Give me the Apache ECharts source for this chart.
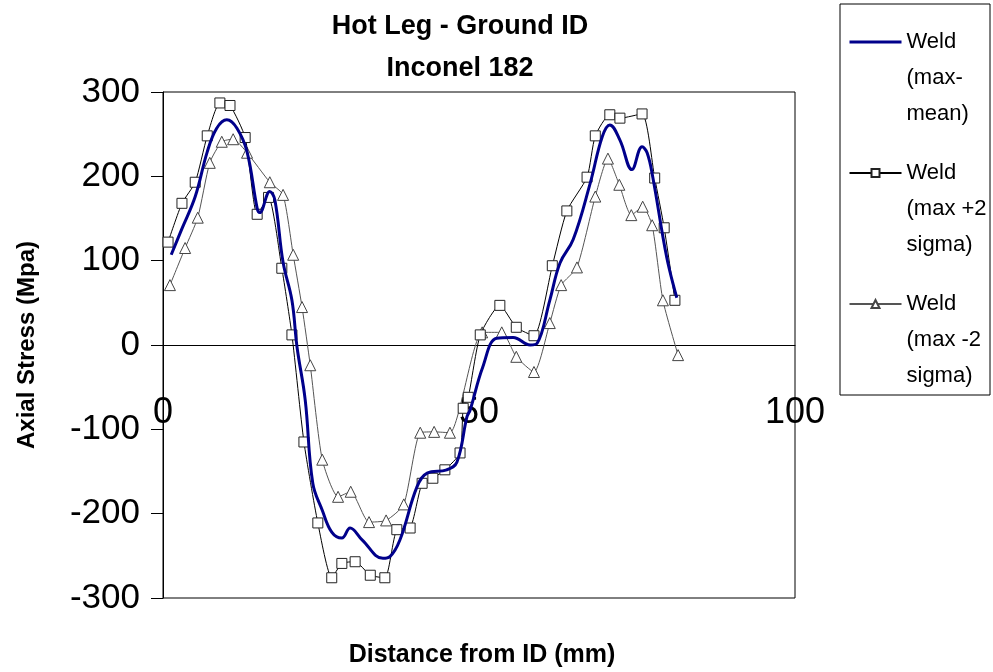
<!DOCTYPE html>
<html>
<head>
    <meta charset="utf-8">
    <title>Hot Leg - Ground ID</title>
    <script src="https://cdn.jsdelivr.net/npm/echarts@6/dist/echarts.min.js"></script>
    <style>
        html, body { margin: 0; padding: 0; background: #fff; }
    </style>
</head>
<body>

<div id="main" style="width: 993px;height:672px;"></div>

<script type="text/javascript">

    // Weld (max-mean)
    var xMean = [1.3, 3.0, 5.1, 7.0, 8.5, 10.1, 11.7, 13.3, 14.9, 15.3, 16.9, 17.7, 19.0, 20.4, 21.2, 22.5, 23.7,
        25.2, 26.7, 28.3, 29.6, 31.5, 34.8, 35.9, 37.5, 40.2, 41.8, 44.9, 46.5, 48.1, 48.6, 50.6, 52.8, 55.4,
        58.1, 59.2, 61.2, 62.8, 64.9, 67.6, 69.5, 70.7, 72.3, 74.2, 75.8, 76.6, 77.5, 79.7, 81.3];
    var yMean = [107, 138, 176, 229, 257, 267, 257, 229, 162, 157, 182, 172, 98, 53, -2, -65, -164,
        -196, -222, -229, -217, -231, -253, -251, -231, -168, -152, -148, -139, -85, -77, -26, 8, 9,
        0, 2, 53, 97, 125, 192, 247, 261, 243, 208, 235, 228, 199, 104, 56];

    // Weld (max +2 sigma)
    var xPlus = [0.8, 3.0, 5.1, 7.0, 9.0, 10.6, 13.0, 14.9, 16.7, 18.8, 20.4, 22.3, 24.5, 26.7, 28.3, 30.4,
        32.8, 35.1, 37.0, 39.1, 41.0, 42.7, 44.6, 47.0, 47.5, 48.3, 50.2, 53.3, 55.9, 58.7, 61.6, 63.9, 67.1,
        68.4, 70.7, 72.3, 75.8, 77.8, 79.3, 81.0];
    var yPlus = [122, 168, 193, 248, 287, 284, 246, 155, 175, 91, 12, -115, -211, -276, -259, -257,
        -273, -276, -219, -217, -164, -158, -148, -128, -75, -62, 12, 47, 21, 11, 94, 159, 199,
        248, 273, 269, 274, 198, 139, 53];

    // Weld (max -2 sigma)
    var xMinus = [1.1, 3.5, 5.5, 7.4, 9.3, 11.1, 13.3, 16.9, 19.0, 20.6, 22.0, 23.3, 25.2, 27.7, 29.7, 32.6,
        35.3, 38.1, 40.7, 42.9, 45.4, 50.5, 53.6, 55.9, 58.7, 61.2, 63.0, 65.5, 68.4, 70.4, 72.2, 74.1,
        75.9, 77.4, 79.1, 81.5];
    var yMinus = [71, 115, 151, 216, 241, 244, 228, 193, 178, 107, 45, -24, -136, -180, -174, -210,
        -208, -189, -104, -103, -104, 15, 15, -14, -32, 26, 71, 92, 176, 221, 190, 154,
        164, 142, 53, -12];

    var seriesNames = ['Weld (max-mean)', 'Weld (max +2 sigma)', 'Weld (max -2 sigma)'];
    var legendText = {
        'Weld (max-mean)': 'Weld\n(max-\nmean)',
        'Weld (max +2 sigma)': 'Weld\n(max +2\nsigma)',
        'Weld (max -2 sigma)': 'Weld\n(max -2\nsigma)'
    };

    function zip(xs, ys) {
        return xs.map(function (x, i) { return [x, ys[i]]; });
    }

    var font = 'Liberation Sans, Arial, sans-serif';
    var myChart = echarts.init(document.getElementById('main'));

    myChart.setOption({
        backgroundColor: '#fff',
        animation: false,
        title: [{
            text: 'Hot Leg - Ground ID\nInconel 182',
            left: 455,
            top: 1,
            textAlign: 'center',
            textStyle: {fontFamily: font, fontSize: 27, fontWeight: 'bold', lineHeight: 42, color: '#000'}
        }, {
            text: 'Distance from ID (mm)',
            left: 477,
            top: 638,
            textAlign: 'center',
            textStyle: {fontFamily: font, fontSize: 25, fontWeight: 'bold', color: '#000'}
        }],
        legend: {
            data: [
                {name: seriesNames[0], itemStyle: {opacity: 0}, lineStyle: {width: 3, color: '#00008B'}},
                seriesNames[1],
                seriesNames[2]
            ],
            orient: 'vertical',
            left: 848,
            top: -48,
            padding: 0,
            itemGap: -49,
            itemWidth: 52,
            itemHeight: 10,
            formatter: function (name) { return '\n\n' + legendText[name]; },
            textStyle: {fontFamily: font, fontSize: 22, lineHeight: 36, color: '#000'}
        },
        graphic: [{
            type: 'rect',
            shape: {x: 840, y: 4, width: 150, height: 391},
            style: {fill: 'none', stroke: '#000', lineWidth: 1},
            z: -1
        }],
        grid: {
            left: 163, right: 198, top: 92, bottom: 74,
            show: true, borderColor: '#000', borderWidth: 1
        },
        xAxis: {
            type: 'value',
            min: 0, max: 100, interval: 50,
            axisLine: {onZero: true, lineStyle: {color: '#000', width: 1}},
            axisTick: {show: false},
            splitLine: {show: false},
            axisLabel: {fontFamily: font, fontSize: 36, color: '#000', margin: -203}
        },
        yAxis: {
            type: 'value',
            min: -300, max: 300, interval: 100,
            name: 'Axial Stress (Mpa)',
            nameLocation: 'middle',
            nameGap: 124,
            nameTextStyle: {fontFamily: font, fontSize: 24, fontWeight: 'bold', color: '#000'},
            axisLine: {show: true, lineStyle: {color: '#000', width: 1}},
            axisTick: {show: true, inside: false, length: 12, lineStyle: {color: '#000'}},
            splitLine: {show: false},
            axisLabel: {fontFamily: font, fontSize: 35, color: '#000', margin: 23, padding: [10, 0, 0, 0]}
        },
        series: [{
            name: seriesNames[0],
            type: 'line',
            data: zip(xMean, yMean),
            smooth: 0.4,
            showSymbol: false,
            symbol: 'none',
            z: 5,
            lineStyle: {color: '#00008B', width: 3},
            itemStyle: {color: '#00008B'}
        }, {
            name: seriesNames[1],
            type: 'line',
            data: zip(xPlus, yPlus),
            smooth: 0.2,
            symbol: 'rect',
            symbolSize: 10,
            z: 3,
            lineStyle: {color: '#000', width: 1},
            itemStyle: {color: '#fff', borderColor: '#222', borderWidth: 1}
        }, {
            name: seriesNames[2],
            type: 'line',
            data: zip(xMinus, yMinus),
            smooth: 0.2,
            symbol: 'triangle',
            symbolSize: 11,
            z: 2,
            lineStyle: {color: '#555', width: 1},
            itemStyle: {color: '#fff', borderColor: '#444', borderWidth: 1}
        }]
    });

</script>
</body>
</html>
